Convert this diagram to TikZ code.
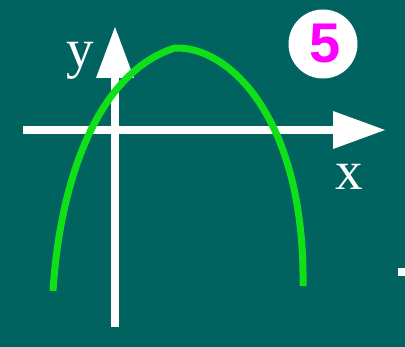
\documentclass[tikz,border=0pt]{standalone}
\usepackage{fontspec}
\setmainfont{Liberation Serif}
\newfontfamily\digitfont{Liberation Sans}
\definecolor{bgteal}{RGB}{0,99,96}
\definecolor{curvegreen}{RGB}{16,224,24}
\definecolor{numpink}{RGB}{255,0,255}
\begin{document}
\begin{tikzpicture}[x=1pt,y=-1pt,
  axisline/.style={draw=white,line width=8pt},
  axishead/.style={fill=white,draw=none},
  graphline/.style={draw=curvegreen,line width=7pt,line join=round},
  axislabel/.style={text=white,inner sep=0pt,anchor=base,font=\fontsize{55}{55}\selectfont}]
\fill[bgteal] (0,0) rectangle (405,347);
\useasboundingbox (0,0) rectangle (405,347);
% axes
\coordinate (xs) at (23,130);
\coordinate (xb) at (333,130);
\coordinate (ys) at (115,327);
\coordinate (yb) at (115,78);
\draw[axisline] (xs) -- (xb);
\fill[axishead] (333,111) -- (385,130) -- (333,149) -- cycle;
\draw[axisline] (ys) -- (yb);
\fill[axishead] (96,78) -- (115,27) -- (134,78) -- cycle;
% labels
\node[axislabel] (ylab) at (80,68) {y};
\node[axislabel] (xlab) at (349,190) {x};
% curve
\coordinate (cl) at (53,291);
\coordinate (ctop) at (175,48);
\coordinate (cr) at (303,286);
\draw[graphline] (cl) .. controls (60,180) and (98,72) .. (ctop)
  .. controls (230,46) and (305,120) .. (cr);
% number badge
\node[circle,fill=white,minimum size=69pt,inner sep=0pt] (badge) at (323,44) {};
\node[text=numpink,inner sep=0pt,anchor=base,font=\digitfont\bfseries\fontsize{56}{56}\selectfont] (num) at (325,63) {5};
% small mark at right edge
\fill[white] (398,268) rectangle (405,276);
\end{tikzpicture}
\end{document}
